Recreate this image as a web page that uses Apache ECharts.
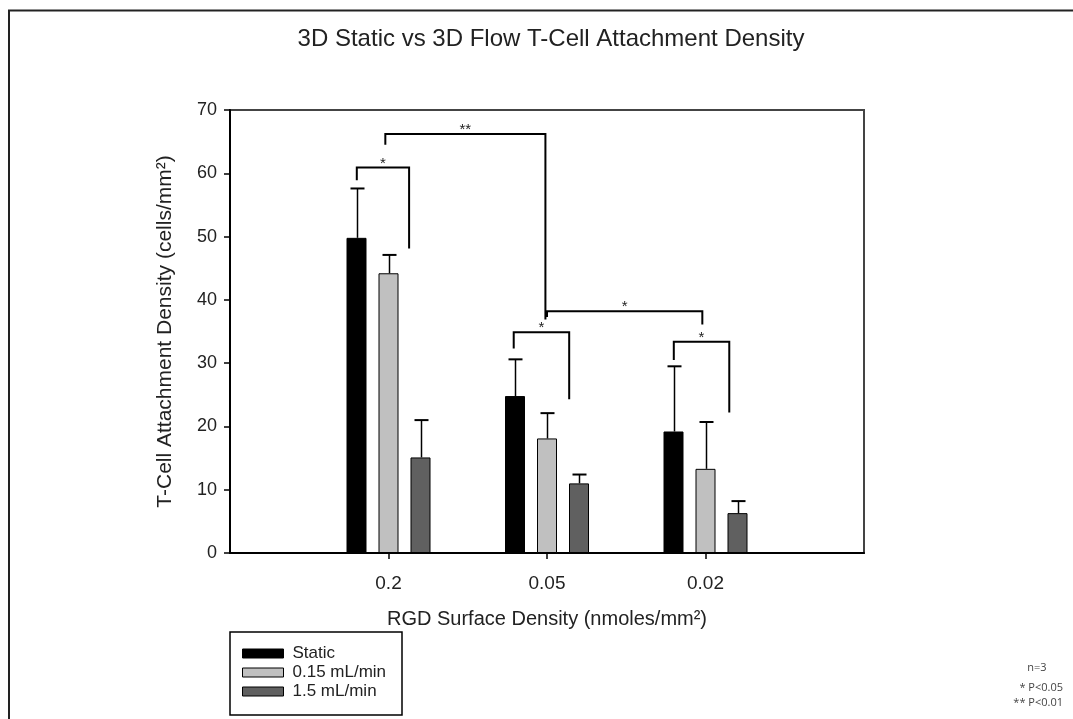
<!DOCTYPE html>
<html>
<head>
<meta charset="utf-8">
<script src="https://cdn.jsdelivr.net/npm/echarts@6/dist/echarts.min.js"></script>
<style>
  html, body { margin: 0; padding: 0; background: #fff; }
  #chart { width: 1073px; height: 719px; }
</style>
</head>
<body>
<div id="chart"></div>
<script>
// ---------- data ----------
const categories = ['0.2', '0.05', '0.02'];
const seriesNames = ['Static', '0.15 mL/min', '1.5 mL/min'];
const staticVals = [49.8, 24.8, 19.2];
const flowLowVals = [44.2, 18.1, 13.3];
const flowHighVals = [15.1, 11.0, 6.3];
const staticErr = [7.8, 5.8, 10.3];
const flowLowErr = [2.9, 4.0, 7.4];
const flowHighErr = [5.9, 1.4, 1.9];
const yMin = 0, yMax = 70, yStep = 10;

// significance brackets (x in category units, 1 = first category; y in data units)
const bracketX1 = [0.80, 0.98, 1.79, 2.00, 2.80];
const bracketX2 = [1.13, 1.99, 2.14, 2.98, 3.15];
const bracketTop = [60.9, 66.2, 34.9, 38.2, 33.4];
const bracketLeftEnd = [58.9, 64.5, 32.3, 37.3, 30.5];
const bracketRightEnd = [48.1, 36.9, 24.3, 36.1, 22.2];
const bracketLabels = ['*', '**', '*', '*', '*'];

const notes = ['n=3', '* P<0.05', '** P<0.01'];

// ---------- styles ----------
const BAR_W = 20, BAR_GAP = 12;
const colors = ['#000000', '#c0c0c0', '#606060'];
const FONT = 'Liberation Sans, Arial, sans-serif';

const valueSets = [staticVals, flowLowVals, flowHighVals];
const errSets = [staticErr, flowLowErr, flowHighErr];
const paddedCats = [''].concat(categories, ['']);
const pad = arr => ['-'].concat(arr, ['-']);

const barSeries = valueSets.map((vals, k) => ({
  name: seriesNames[k],
  type: 'bar',
  xAxisIndex: 0, yAxisIndex: 0,
  data: pad(vals),
  barWidth: BAR_W,
  barGap: (BAR_GAP / BAR_W * 100) + '%',
  itemStyle: { color: colors[k], borderColor: '#000', borderWidth: 1 },
  emphasis: { disabled: true },
  z: 2
}));

const errData = [];
valueSets.forEach((vals, k) => {
  vals.forEach((v, i) => errData.push([i + 1, v, errSets[k][i], k]));
});

function renderErr(params, api) {
  const x = api.value(0), m = api.value(1), e = api.value(2), k = api.value(3);
  const dx = (k - 1) * (BAR_W + BAR_GAP);
  const p0 = api.coord([x, m]);
  const p1 = api.coord([x, m + e]);
  const cx = Math.round(p0[0] + dx) + 0.5;
  return {
    type: 'group',
    children: [
      { type: 'line', shape: { x1: cx, y1: p0[1], x2: cx, y2: p1[1] }, style: { stroke: '#000', lineWidth: 1.5 } },
      { type: 'line', shape: { x1: cx - 7, y1: p1[1], x2: cx + 7, y2: p1[1] }, style: { stroke: '#000', lineWidth: 2 } }
    ]
  };
}

const bracketData = bracketX1.map((x1, i) => [x1, bracketX2[i], bracketTop[i], bracketLeftEnd[i], bracketRightEnd[i]]);

function renderBracket(params, api) {
  const x1 = api.value(0), x2 = api.value(1), yt = api.value(2), yl = api.value(3), yr = api.value(4);
  const a = api.coord([x1, yl]);
  const b = api.coord([x1, yt]);
  const c = api.coord([x2, yt]);
  const d = api.coord([x2, yr]);
  const mid = api.coord([(x1 + x2) / 2, yt]);
  return {
    type: 'group',
    children: [
      { type: 'polyline', shape: { points: [a, b, c, d] }, style: { stroke: '#000', lineWidth: 2, fill: null } },
      { type: 'text', x: mid[0], y: mid[1] - 4, style: { text: bracketLabels[params.dataIndex], fill: '#222', font: '15px ' + FONT, align: 'center', verticalAlign: 'middle' } }
    ]
  };
}

const chart = echarts.init(document.getElementById('chart'), null, { renderer: 'canvas' });
chart.setOption({
  animation: false,
  backgroundColor: '#fff',
  title: {
    text: '3D Static vs 3D Flow T-Cell Attachment Density',
    left: 546, top: 22, textAlign: 'center',
    textStyle: { fontFamily: FONT, fontSize: 24, fontWeight: 'normal', color: '#222' }
  },
  grid: {
    left: 230, right: 209, top: 110, bottom: 166,
    show: true, borderColor: '#444', borderWidth: 2, backgroundColor: 'transparent'
  },
  legend: {
    data: seriesNames,
    orient: 'vertical',
    left: 242, top: 645,
    padding: 0,
    itemWidth: 41, itemHeight: 9, itemGap: 2,
    icon: 'rect',
    itemStyle: { borderColor: '#000', borderWidth: 1 },
    textStyle: { fontFamily: FONT, fontSize: 17, lineHeight: 17, color: '#222', padding: [0, 0, 0, 4] },
    selectedMode: false
  },
  xAxis: [
    {
      type: 'category',
      data: paddedCats,
      boundaryGap: false,
      name: 'RGD Surface Density (nmoles/mm²)',
      nameLocation: 'middle',
      nameGap: 56,
      nameTextStyle: { fontFamily: FONT, fontSize: 20, color: '#222' },
      axisLine: { lineStyle: { color: '#000', width: 2 } },
      axisTick: { show: true, inside: false, length: 6, interval: (idx, val) => val !== '', lineStyle: { color: '#000', width: 1.5 } },
      axisLabel: { interval: 0, margin: 21, fontFamily: FONT, fontSize: 19, color: '#222' },
      splitLine: { show: false }
    },
    {
      type: 'value', min: 0, max: paddedCats.length - 1, show: false
    }
  ],
  yAxis: {
    type: 'value',
    min: yMin, max: yMax, interval: yStep,
    name: 'T-Cell Attachment Density (cells/mm²)',
    nameLocation: 'middle',
    nameRotate: 90,
    nameGap: 54,
    nameTextStyle: { fontFamily: FONT, fontSize: 21, color: '#222' },
    axisLine: { show: true, lineStyle: { color: '#000', width: 2 } },
    axisTick: { show: true, inside: false, length: 6, lineStyle: { color: '#000', width: 1.5 } },
    axisLabel: { margin: 13, fontFamily: FONT, fontSize: 18, color: '#222' },
    splitLine: { show: false }
  },
  series: barSeries.concat([
    {
      type: 'custom',
      xAxisIndex: 0, yAxisIndex: 0,
      renderItem: renderErr,
      data: errData,
      encode: { x: 0, y: 1 },
      z: 3, silent: true
    },
    {
      type: 'custom',
      xAxisIndex: 1, yAxisIndex: 0,
      renderItem: renderBracket,
      data: bracketData,
      encode: { x: [0, 1], y: [2, 3, 4] },
      z: 4, silent: true, clip: false
    }
  ]),
  graphic: [
    { type: 'polyline', shape: { points: [[9, 719], [9, 10.5], [1073, 10.5]] }, style: { stroke: '#222', lineWidth: 2, fill: null }, silent: true },
    { type: 'rect', shape: { x: 230, y: 632, width: 172, height: 83 }, style: { stroke: '#000', lineWidth: 1.5, fill: null }, silent: true },
    { type: 'text', x: 1037, y: 668, style: { text: notes[0], fill: '#444', font: '11px "Open Sans", sans-serif', align: 'center', verticalAlign: 'middle' } },
    { type: 'text', x: 1063, y: 688, style: { text: notes[1], fill: '#444', font: '11px "Open Sans", sans-serif', align: 'right', verticalAlign: 'middle' } },
    { type: 'text', x: 1063, y: 703, style: { text: notes[2], fill: '#444', font: '11px "Open Sans", sans-serif', align: 'right', verticalAlign: 'middle' } }
  ]
});
</script>
</body>
</html>
